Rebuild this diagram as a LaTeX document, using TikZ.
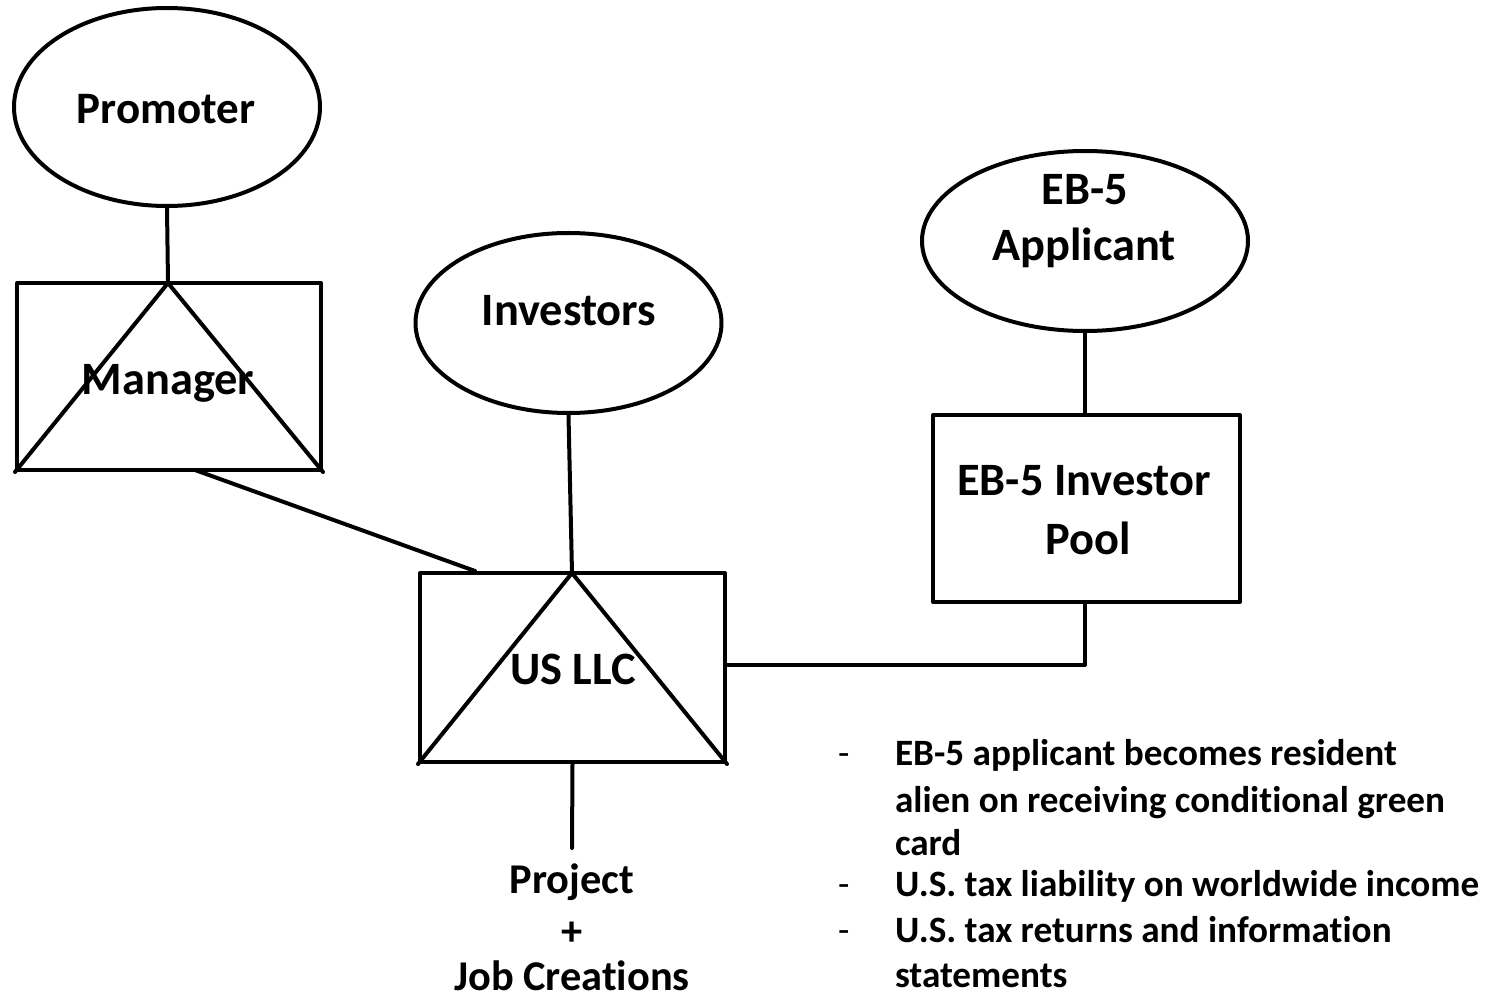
\documentclass[tikz,border=0pt]{standalone}
\usepackage{fontspec}
\setmainfont{Carlito}[Ligatures=CommonOff]
\usetikzlibrary{shapes.geometric}
\begin{document}
\begin{tikzpicture}[x=0.5pt,y=-0.5pt,
  line width=2pt, line cap=round, line join=round,
  lbl/.style={font=\fontsize{23.2}{27}\selectfont\bfseries, anchor=base, inner sep=0pt},
  small lbl/.style={font=\fontsize{21.2}{25}\selectfont\bfseries, anchor=base, inner sep=0pt},
  bul/.style={font=\fontsize{18.6}{20.8}\selectfont\bfseries, anchor=base west, inner sep=0pt},
  dsh/.style={font=\fontsize{18.6}{20.8}\selectfont, anchor=base west, inner sep=0pt},
  party/.style={draw, ellipse, inner sep=0pt},
  entity/.style={draw, rectangle, inner sep=0pt}]
\useasboundingbox (0,0) rectangle (1490,1000);

% Promoter and its manager
\node[party, minimum width=153pt, minimum height=99pt] (promoter) at (167,107) {};
\node[lbl, font=\fontsize{22.5}{27}\selectfont\bfseries] (promotertxt) at (166,124) {Promoter};
\node[entity, minimum width=152pt, minimum height=93.5pt] (manager) at (169,376.5) {};
\coordinate (mapex) at (168,283);
\draw (manager.south west) -- (mapex) -- (manager.south east);
\node[lbl] (managertxt) at (168,394) {Manager};

% Investors and the LLC
\node[party, minimum width=153pt, minimum height=90pt] (investors) at (568.5,323) {};
\node[lbl] (investorstxt) at (569,326) {Investors};
\node[entity, minimum width=152.5pt, minimum height=94.5pt] (llc) at (572.5,667.5) {};
\coordinate (lapex) at (572,573);
\draw (llc.south west) -- (lapex) -- (llc.south east);
\node[lbl] (llctxt) at (573,684) {US LLC};

% EB-5 applicant and pool
\node[party, minimum width=163pt, minimum height=90pt] (applicant) at (1085,241) {};
\node[lbl] (apptxt1) at (1085,205) {EB-5};
\node[lbl] (apptxt2) at (1084,261) {Applicant};
\node[entity, minimum width=153.5pt, minimum height=93.5pt] (pool) at (1086.5,508.5) {};
\node[lbl] (pooltxt1) at (1084,495) {EB-5 Investor};
\node[lbl] (pooltxt2) at (1088,554) {Pool};

% Project below the LLC
\node[small lbl] (project1) at (572,893) {Project};
\node[small lbl] (project2) at (572,945) {+};
\node[small lbl] (project3) at (572,990) {Job Creations};

% Connectors
\draw (promoter.south) -- (mapex);
\coordinate (mgrout) at (195,470);
\coordinate (llcin) at (475,571);
\draw (mgrout) -- (llcin);
\draw (investors.south) -- (lapex);
\draw (applicant.south) -- (pool.north -| applicant.south);
\coordinate (bend) at (1085,665);
\draw (pool.south -| bend) -- (bend) -- (llc.east |- bend);
\coordinate (projtop) at (572,848);
\draw (llc.south) -- (projtop);

% Notes on the applicant's tax position
\node[dsh] (d1) at (836,765) {-};
\node[bul] (b1a) at (893,765) {EB-5 applicant becomes resident};
\node[bul] (b1b) at (893,812) {alien on receiving conditional green};
\node[bul] (b1c) at (893,855) {card};
\node[dsh] (d2) at (836,896) {-};
\node[bul] (b2) at (893,896) {U.S. tax liability on worldwide income};
\node[dsh] (d3) at (836,942) {-};
\node[bul] (b3a) at (893,942) {U.S. tax returns and information};
\node[bul] (b3b) at (893,987) {statements};
\end{tikzpicture}
\end{document}
